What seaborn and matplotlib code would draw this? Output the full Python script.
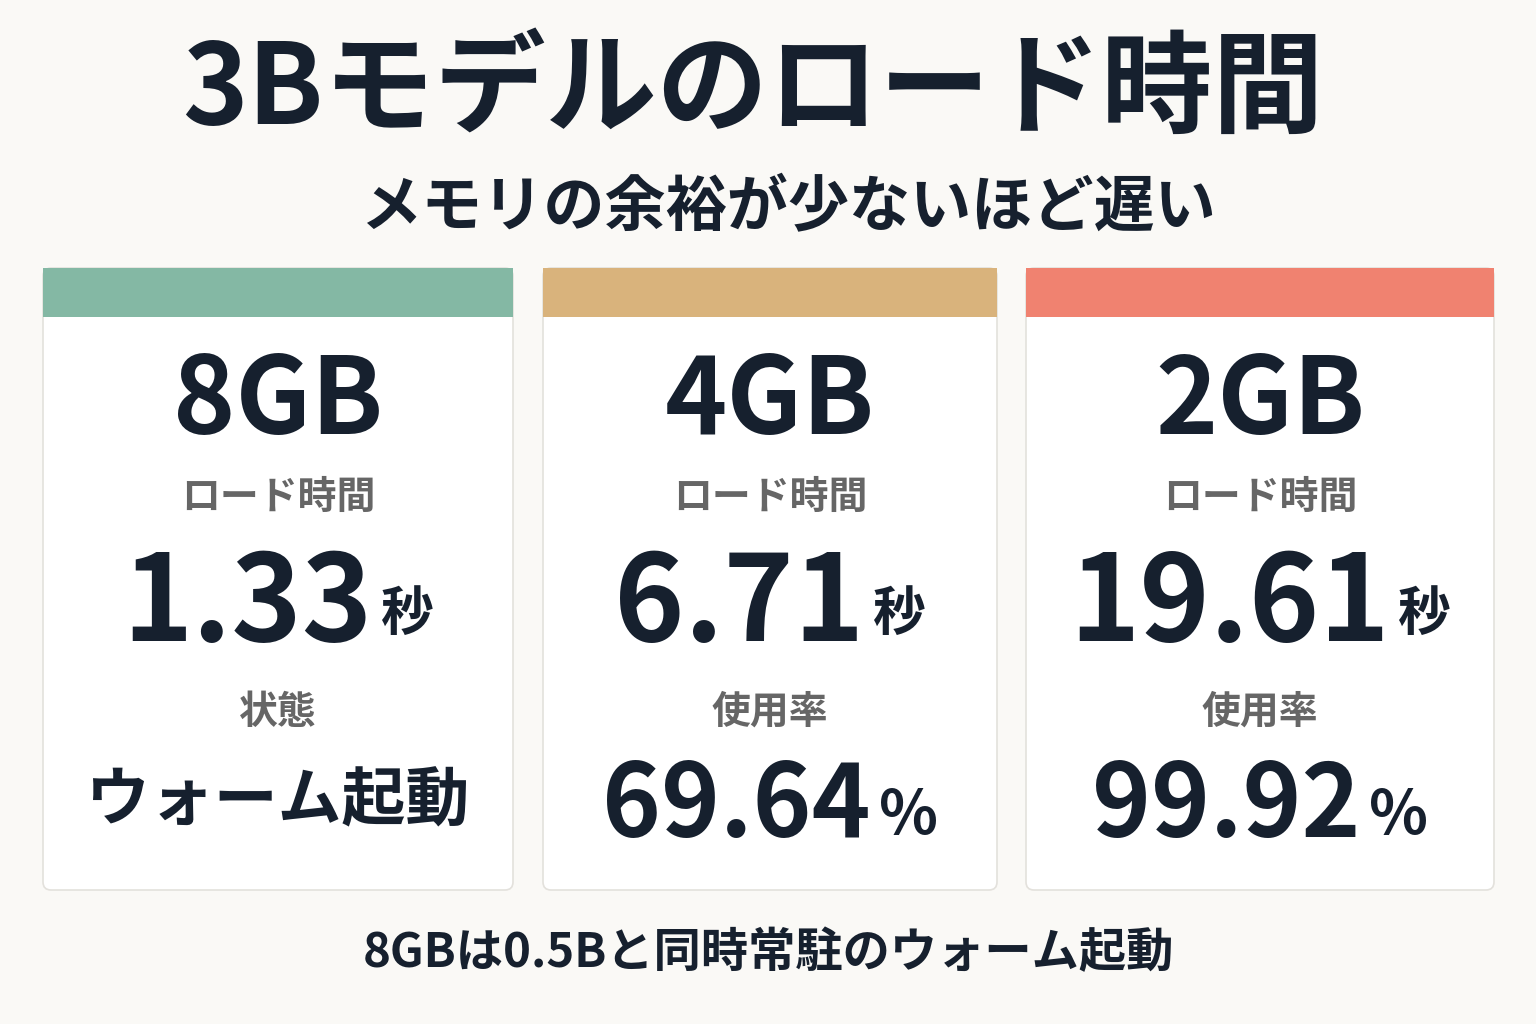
import matplotlib.pyplot as plt
import seaborn as sns
from matplotlib.patches import FancyBboxPatch, Rectangle

sns.set_theme(style="white")
plt.rcParams['font.family'] = ['Noto Sans CJK JP', 'DejaVu Sans']

memory = ["8GB", "4GB", "2GB"]
load_times = ["1.33", "6.71", "19.61"]
second_labels = ["状態", "使用率", "使用率"]
second_values = ["ウォーム起動", "69.64", "99.92"]
second_units = ["", "%", "%"]
band_colors = ["#84b8a4", "#d9b37c", "#f08270"]
card_x = [(43, 513), (543, 997), (1026, 1494)]

W, H = 1536, 1024
fig = plt.figure(figsize=(W / 100, H / 100), dpi=100)
fig.patch.set_facecolor("#faf9f6")
ax = fig.add_axes([0, 0, 1, 1])
ax.set_xlim(0, W)
ax.set_ylim(H, 0)
ax.axis("off")

dark = "#16202e"
gray = "#666666"

ax.text(W / 2 - 15, 92, "3Bモデルのロード時間", ha="center", va="center",
        fontsize=80, fontweight="bold", color=dark)
ax.text(W / 2 + 20, 208, "メモリの余裕が少ないほど遅い", ha="center", va="center",
        fontsize=44, fontweight="bold", color=dark)
ax.text(W / 2, 953, "8GBは0.5Bと同時常駐のウォーム起動", ha="center", va="center",
        fontsize=34, fontweight="bold", color=dark)

fig.canvas.draw()
renderer = fig.canvas.get_renderer()


def num_with_unit(cx, y, num, unit, nsize, usize):
    t = ax.text(0, y, num, ha="left", va="center", fontsize=nsize,
                fontweight="bold", color=dark)
    u = ax.text(0, y, unit, ha="left", va="center", fontsize=usize,
                fontweight="bold", color=dark)
    wn = t.get_window_extent(renderer).width
    wu = u.get_window_extent(renderer).width if unit else 0
    gap = 8 if unit else 0
    x0 = cx - (wn + gap + wu) / 2
    t.set_x(x0)
    u.set_x(x0 + wn + gap)
    u.set_y(y + 8)


for i in range(3):
    x0, x1 = card_x[i]
    cx = (x0 + x1) / 2
    ax.add_patch(FancyBboxPatch((x0, 268), x1 - x0, 622,
                                boxstyle="round,pad=0,rounding_size=8",
                                facecolor="white", edgecolor="#e3e1dc", linewidth=1.2))
    ax.add_patch(Rectangle((x0, 268), x1 - x0, 49, facecolor=band_colors[i],
                           edgecolor="none"))
    ax.text(cx, 403, memory[i], ha="center", va="center", fontsize=76,
            fontweight="bold", color=dark)
    ax.text(cx, 497, "ロード時間", ha="center", va="center", fontsize=28,
            fontweight="bold", color=gray)
    num_with_unit(cx, 606, load_times[i], "秒", 86, 38)
    ax.text(cx, 712, second_labels[i], ha="center", va="center", fontsize=28,
            fontweight="bold", color=gray)
    if second_units[i]:
        num_with_unit(cx, 808, second_values[i], second_units[i], 72, 44)
    else:
        ax.text(cx, 802, second_values[i], ha="center", va="center", fontsize=46,
                fontweight="bold", color=dark)

fig.savefig("out.png", dpi=100, facecolor=fig.get_facecolor())
